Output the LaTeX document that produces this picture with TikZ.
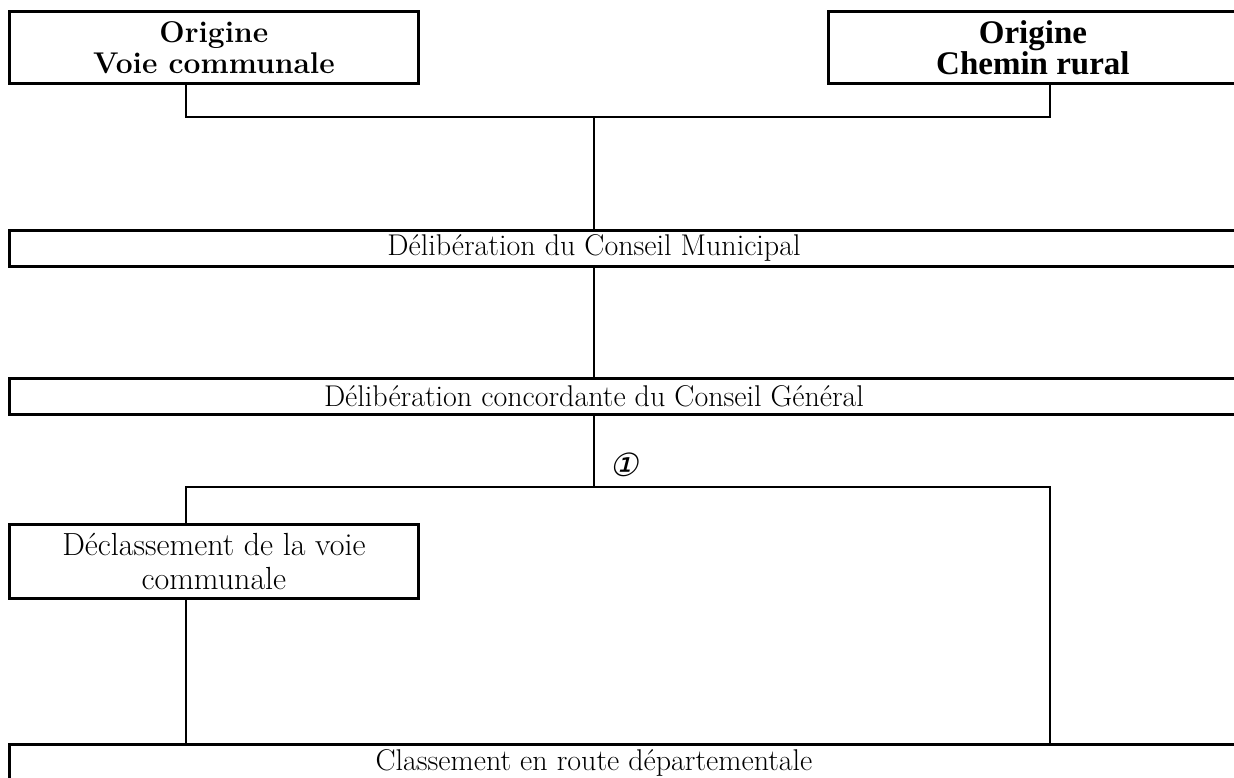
\documentclass[tikz,border=0pt]{standalone}
\usepackage{fontspec}
\newfontfamily\timesfont{Liberation Serif}
\newfontfamily\renvoifont{DejaVu Sans}[FakeSlant=0.25]
\usetikzlibrary{calc}

\tikzset{
  cadre/.style={draw,line width=2.8pt,inner sep=0pt,align=center,anchor=north west,
    font=\fontsize{32}{34}\selectfont},
  titre/.style={cadre,minimum width=409,minimum height=72,font=\fontsize{30}{31}\selectfont\bfseries},
  large/.style={cadre,minimum width=1229,minimum height=36},
  texte/.style={inner sep=0pt,font=\fontsize{30}{34}\selectfont},
  lien/.style={line width=1.8pt},
}

\begin{document}
\begin{tikzpicture}[x=1pt,y=-1pt]
\useasboundingbox (0,0) rectangle (1234,778);
\clip (0,0) rectangle (1234,778);
\coordinate (xg) at (186,0);
\coordinate (xd) at (1050,0);
\coordinate (j1) at (594,117);
\coordinate (j2) at (594,487);
\node[titre] (vc) at (8,10) {Origine\\Voie communale};
\node[titre,font=\fontsize{33}{31}\timesfont\bfseries] (cr) at (827,10) {Origine\\Chemin rural};
\node[large] (cm) at (8,229) {};
\node[texte] (cmt) at (cm.center -| j1) {D\'elib\'eration du Conseil Municipal};
\node[large] (cg) at (8,377) {};
\node[texte] (cgt) at (cg.center -| j1) {D\'elib\'eration concordante du Conseil G\'en\'eral};
\node[cadre,minimum width=409,minimum height=74] (dv) at (8,523) {D\'eclassement de la voie\\communale};
\node[large,minimum height=38] (rd) at (8,743) {};
\node[texte] (rdt) at (rd.center -| j1) {Classement en route d\'epartementale};
\node[font=\fontsize{32}{32}\renvoifont] (renvoi) at (624,465) {①};
\draw[lien] (vc.south -| xg) |- (j1) -| (cr.south -| xd);
\draw[lien] (j1) -- (cm.north -| j1);
\draw[lien] (cm.south -| j1) -- (cg.north -| j1);
\draw[lien] (cg.south -| j1) -- (j2);
\draw[lien] (dv.north -| xg) |- (j2) -| (rd.north -| xd);
\draw[lien] (dv.south -| xg) -- (rd.north -| xg);
\end{tikzpicture}
\end{document}
